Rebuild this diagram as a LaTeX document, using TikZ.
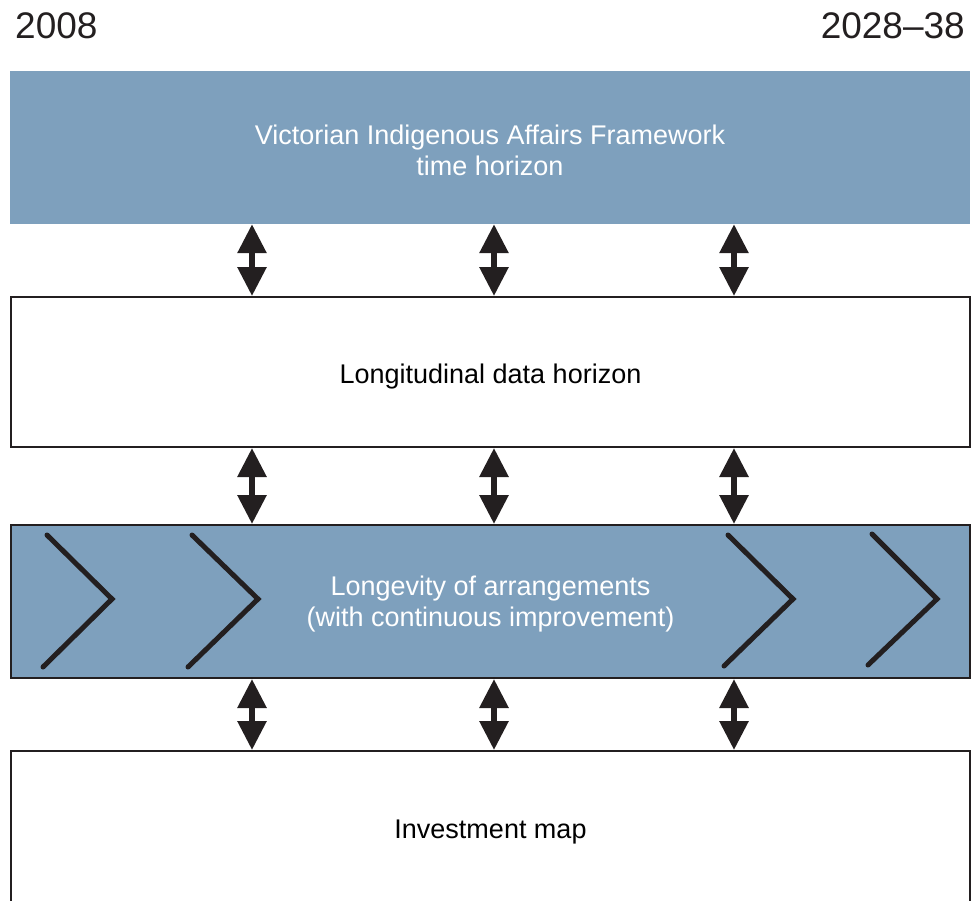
\documentclass[tikz,border=0pt]{standalone}
\usepackage{fontspec}
\setmainfont{Liberation Sans}
\usetikzlibrary{arrows.meta}

\definecolor{inkdark}{RGB}{35,31,32}
\definecolor{panelblue}{RGB}{126,160,189}

\tikzset{
  band/.style={rectangle, inner sep=0pt},
  blueband/.style={band, fill=panelblue},
  whiteband/.style={band, fill=white, draw=inkdark, line width=2pt},
  framedblue/.style={band, fill=panelblue, draw=inkdark, line width=2pt},
  bandtext/.style={inner sep=0pt, align=center, font=\fontsize{27}{31}\selectfont},
  yearlabel/.style={inner sep=0pt, text=inkdark, font=\fontsize{37}{40}\selectfont},
  link/.style={draw=inkdark, fill=inkdark, line width=6pt,
    {Triangle[width=28pt,length=29pt]}-{Triangle[width=28pt,length=29pt]}},
  chevron/.style={draw=inkdark, line width=5pt, line cap=round, line join=miter}
}

\begin{document}
\begin{tikzpicture}[x=1pt,y=-1pt]
  \useasboundingbox (0,0) rectangle (974,900);

  % time span labels
  \node[yearlabel, anchor=base west] (ystart) at (15,38.5) {2008};
  \node[yearlabel, anchor=base east] (yend) at (965,38.5) {2028--38};

  % horizontal bands
  \node[blueband, minimum width=960pt, minimum height=153pt] (b1) at (490,147.5) {};
  \node[whiteband, minimum width=959pt, minimum height=150pt] (b2) at (490.5,372) {};
  \node[framedblue, minimum width=959pt, minimum height=153pt] (b3) at (490.5,601.5) {};
  \node[whiteband, minimum width=959pt, minimum height=152pt] (b4) at (490.5,827) {};

  % band captions
  \node[bandtext, text=white] (t1) at ([yshift=-2.5pt]b1.center)
    {Victorian Indigenous Affairs Framework\\time horizon};
  \node[bandtext, text=black] (t2) at ([yshift=-5pt]b2.center)
    {Longitudinal data horizon};
  \node[bandtext, text=white] (t3) at ([yshift=-2.5pt]b3.center)
    {Longevity of arrangements\\(with continuous improvement)};
  \node[bandtext, text=black] (t4) at ([yshift=-5pt]b4.center)
    {Investment map};

  % chevrons inside the third band
  \draw[chevron] (47,535) -- (112,599) -- (43,667);
  \draw[chevron] (192,535) -- (258,599) -- (188,667);
  \draw[chevron] (728,535) -- (793,599) -- (724,666);
  \draw[chevron] (872,534) -- (937,599) -- (868,665);

  % two-way links between the bands
  \foreach \x in {252,494,734} {
    \path[link] (b1.south -| \x,0) -- (b2.north -| \x,0);
    \path[link] (b2.south -| \x,0) -- (b3.north -| \x,0);
    \path[link] (b3.south -| \x,0) -- (b4.north -| \x,0);
  }
\end{tikzpicture}
\end{document}
